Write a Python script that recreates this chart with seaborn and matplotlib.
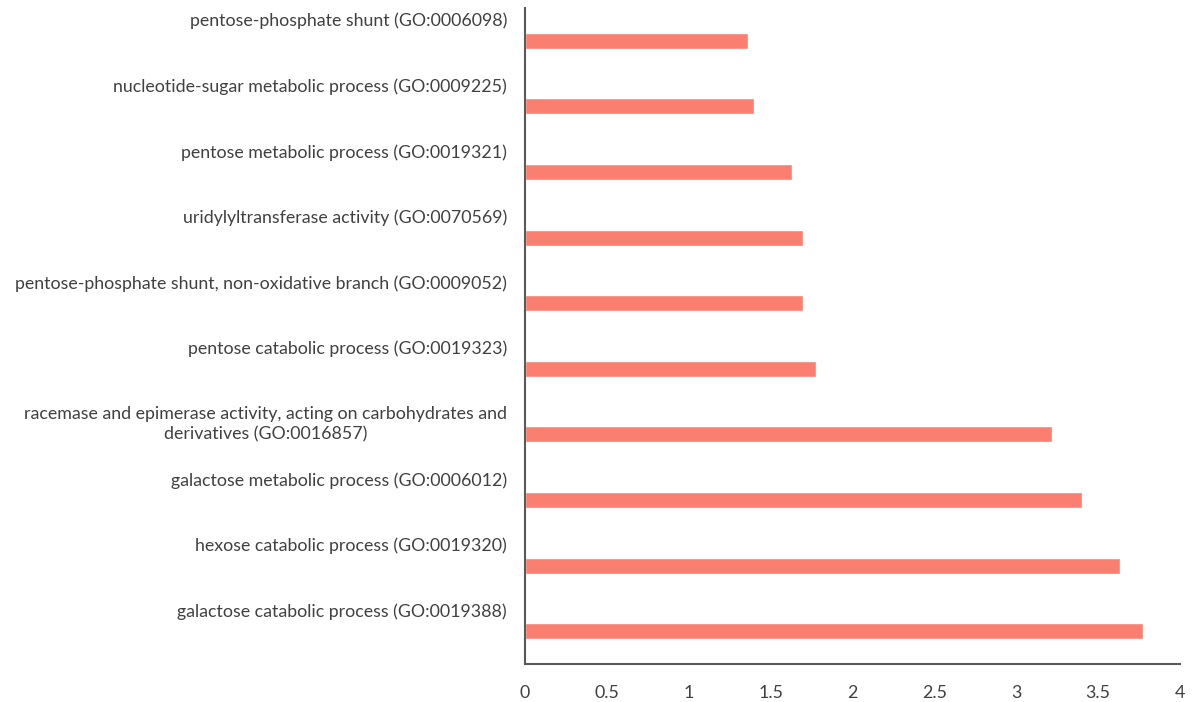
import matplotlib
matplotlib.use("Agg")
import matplotlib.pyplot as plt
import matplotlib.transforms as mtransforms
import seaborn as sns
import pandas as pd

terms = [
    "pentose-phosphate shunt (GO:0006098)",
    "nucleotide-sugar metabolic process (GO:0009225)",
    "pentose metabolic process (GO:0019321)",
    "uridylyltransferase activity (GO:0070569)",
    "pentose-phosphate shunt, non-oxidative branch (GO:0009052)",
    "pentose catabolic process (GO:0019323)",
    "racemase and epimerase activity, acting on carbohydrates and\nderivatives (GO:0016857)",
    "galactose metabolic process (GO:0006012)",
    "hexose catabolic process (GO:0019320)",
    "galactose catabolic process (GO:0019388)",
]
values = [1.364, 1.398, 1.629, 1.696, 1.696, 1.775, 3.216, 3.40, 3.632, 3.774]
xticks = [0, 0.5, 1, 1.5, 2, 2.5, 3, 3.5, 4]
xticklabels = ["0", "0.5", "1", "1.5", "2", "2.5", "3", "3.5", "4"]

df = pd.DataFrame({"term": terms, "value": values})

sns.set_style("white")
plt.rcParams["font.family"] = ["Lato", "DejaVu Sans"]

fig = plt.figure(figsize=(11.96, 7.02), dpi=100)
ax = fig.add_axes([525 / 1196, (702 - 664) / 702, (1180 - 525) / 1196, (664 - 8) / 702])

sns.barplot(data=df, y="term", x="value", orient="h", order=terms,
            color="#FA7F70", saturation=1, width=0.245, ax=ax)

ax.set_xlim(0, 4)
ax.set_xticks(xticks)
ax.set_xticklabels(xticklabels, fontsize=12.8, color="#404040")
ax.set_xlabel("")
ax.set_ylabel("")

for s in ["top", "right"]:
    ax.spines[s].set_visible(False)
for s in ["left", "bottom"]:
    ax.spines[s].set_color("#595959")
    ax.spines[s].set_linewidth(1.5)

ax.tick_params(axis="x", direction="out", length=6, width=1.2, color="#595959", pad=9)
ax.tick_params(axis="y", length=0, pad=13)

offset = mtransforms.ScaledTranslation(0, 0.28, fig.dpi_scale_trans)
for lbl in ax.get_yticklabels():
    lbl.set_fontsize(12.8)
    lbl.set_color("#404040")
    lbl.set_verticalalignment("top")
    lbl.set_multialignment("center")
    lbl.set_linespacing(1.3)
    lbl.set_transform(lbl.get_transform() + offset)

fig.savefig("out.png", dpi=100, facecolor="white")
